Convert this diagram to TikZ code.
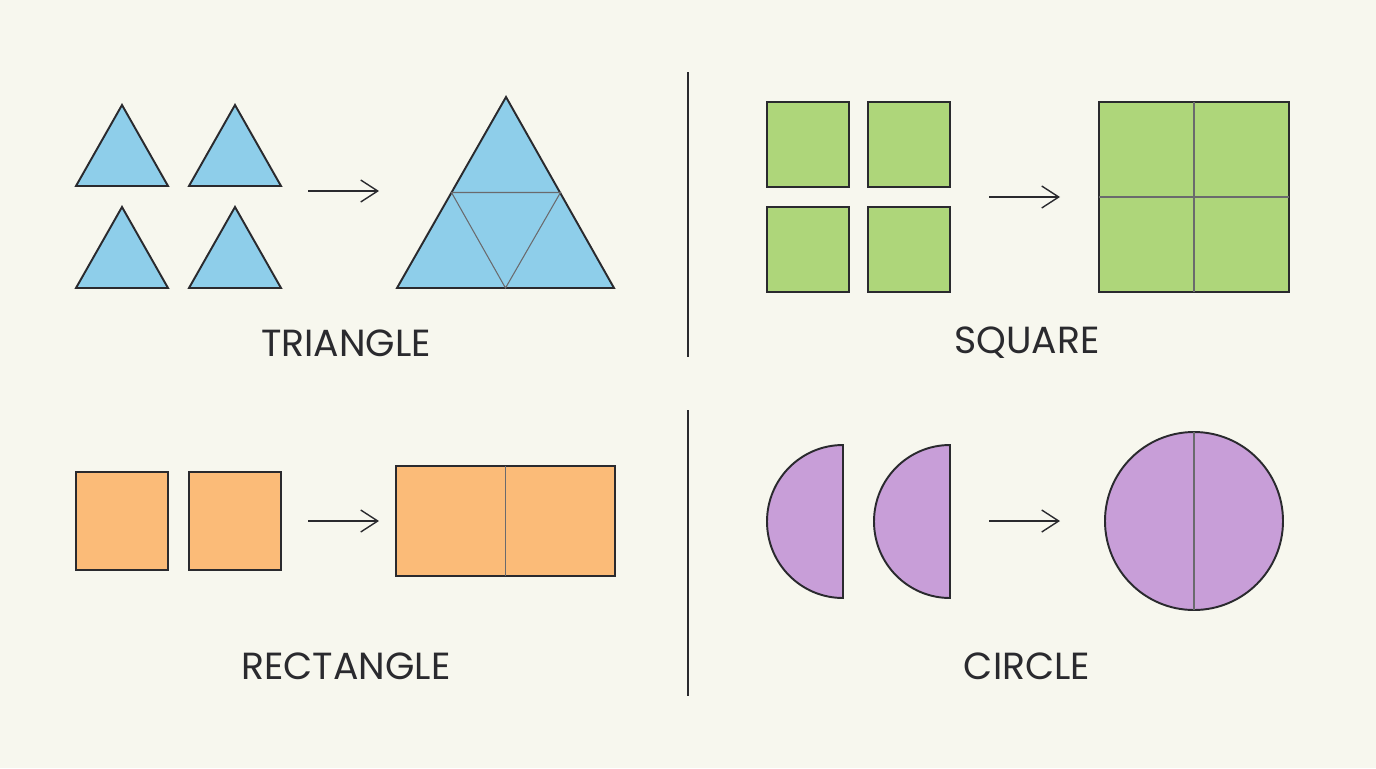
\documentclass[tikz,border=0pt]{standalone}
\usepackage{fontspec}
\setmainfont{Poppins}
\usetikzlibrary{arrows.meta}
\definecolor{paper}{RGB}{247,247,238}
\definecolor{ink}{RGB}{42,42,46}
\definecolor{triblue}{RGB}{142,206,234}
\definecolor{sqgreen}{RGB}{174,214,122}
\definecolor{rectorange}{RGB}{251,187,120}
\definecolor{circpurple}{RGB}{200,158,216}

\begin{document}
\begin{tikzpicture}[
    x=0.02cm, y=-0.02cm,
    piece/.style={draw=ink, line width=1.1pt, line join=miter},
    seam/.style={draw=ink!70, line width=0.6pt},
    merge/.style={-{Straight Barb[length=3.4mm,width=4.4mm]}, draw=ink, line width=0.8pt},
    divider/.style={draw=ink, line width=0.7pt},
    caption/.style={font=\fontsize{21.5}{24}\selectfont, text=ink},
]
\fill[paper] (0,0) rectangle (1376,768);
\useasboundingbox (0,0) rectangle (1376,768);

% dividers
\draw[divider] (688,72) -- (688,357);
\draw[divider] (688,410) -- (688,696);

% triangle
\foreach \x/\y in {122/105, 235/105, 122/207, 235/207}
  \draw[piece, fill=triblue] (\x,\y) -- (\x+46,\y+81) -- (\x-46,\y+81) -- cycle;
\coordinate (triA) at (308,191);
\coordinate (triB) at (379,191);
\draw[merge] (triA) -- (triB);
\draw[piece, fill=triblue] (506,97) -- (614,288) -- (397,288) -- cycle;
\draw[seam] (451.5,192.5) -- (560.5,192.5) -- (505.5,288) -- cycle;
\node[caption] (triLabel) at (346,343) {TRIANGLE};

% square
\foreach \x/\y in {767/102, 868/102, 767/207, 868/207}
  \draw[piece, fill=sqgreen] (\x,\y) rectangle +(82,85);
\coordinate (sqA) at (989,197);
\coordinate (sqB) at (1060,197);
\draw[merge] (sqA) -- (sqB);
\draw[piece, fill=sqgreen] (1099,102) rectangle (1289,292);
\draw[seam] (1194,102) -- (1194,292) (1099,197) -- (1289,197);
\node[caption] (sqLabel) at (1027,343) {SQUARE};

% rectangle
\foreach \x in {76, 189}
  \draw[piece, fill=rectorange] (\x,472) rectangle +(92,98);
\coordinate (recA) at (308,521);
\coordinate (recB) at (379,521);
\draw[merge] (recA) -- (recB);
\draw[piece, fill=rectorange] (396,466) rectangle (615,576);
\draw[seam] (505.5,466) -- (505.5,576);
\node[caption] (recLabel) at (346,666) {RECTANGLE};

% circle
\foreach \x in {843, 950}
  \draw[piece, fill=circpurple] (\x,445) arc[start angle=90, end angle=270, x radius=76, y radius=-76.5] -- cycle;
\coordinate (cirA) at (989,521);
\coordinate (cirB) at (1060,521);
\draw[merge] (cirA) -- (cirB);
\draw[piece, fill=circpurple] (1194,521) circle[radius=89];
\draw[seam] (1194,432) -- (1194,610);
\node[caption] (cirLabel) at (1027,666) {CIRCLE};
\end{tikzpicture}
\end{document}
